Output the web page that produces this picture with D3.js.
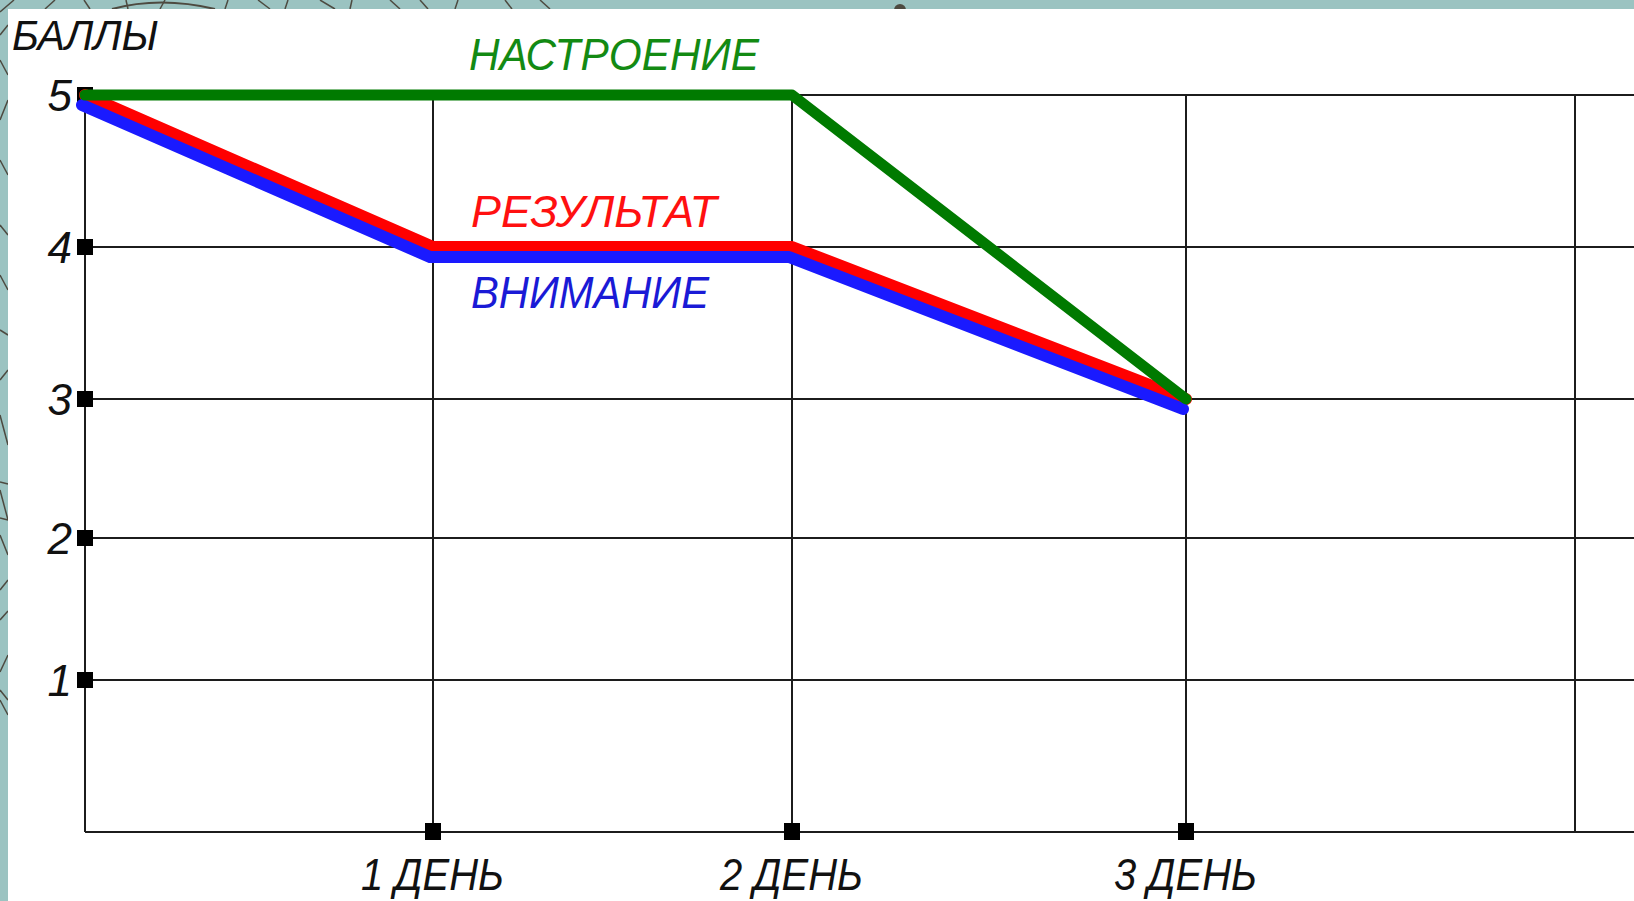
<!DOCTYPE html>
<html>
<head>
<meta charset="utf-8">
<script src="https://cdn.jsdelivr.net/npm/d3@7"></script>
<style>
  html, body { margin: 0; padding: 0; background: #9bc3c1; }
  svg { display: block; }
  text { font-family: "Liberation Sans", Arial, sans-serif; font-style: italic; }
</style>
</head>
<body>
<div id="chart"></div>
<script>
/* ===== Data ===== */
const days = [1, 2, 3];
const dayLabels = ['1 ДЕНЬ', '2 ДЕНЬ', '3 ДЕНЬ'];
const gridDays = [1, 2, 3, 4];
const scoreTicks = [1, 2, 3, 4, 5];

const moodValues = [5, 5, 5, 3];       // НАСТРОЕНИЕ
const resultValues = [5, 4, 4, 3];     // РЕЗУЛЬТАТ
const attentionValues = [5, 4, 4, 3];  // ВНИМАНИЕ

const W = 1634, H = 901;

const svg = d3.select('#chart').append('svg')
  .attr('width', W)
  .attr('height', H);

/* ---- Background strip decoration ---- */
svg.append('rect').attr('width', W).attr('height', H).attr('fill', '#9bc3c1');
const deco = [
  [0, 12, 14, 0], [45, 9, 55, 0], [90, 9, 84, 0], [128, 9, 126, 0], [160, 9, 165, 0],
  [225, 9, 228, 0], [258, 0, 270, 9], [285, 9, 288, 0], [320, 0, 335, 9], [350, 9, 352, 0],
  [390, 0, 400, 9], [420, 0, 428, 9], [455, 9, 458, 0], [505, 0, 512, 9], [540, 0, 550, 9],
  [0, 35, 8, 25], [0, 60, 8, 75], [0, 120, 8, 100], [0, 160, 8, 175], [0, 225, 8, 235],
  [0, 275, 8, 290], [0, 330, 8, 335], [0, 380, 8, 370], [0, 415, 8, 445],
  [0, 482, 8, 484], [0, 490, 8, 520], [0, 518, 8, 520], [0, 535, 8, 555], [0, 590, 8, 580],
  [0, 620, 8, 611], [0, 672, 8, 655], [0, 690, 8, 700], [0, 700, 8, 715]
];
svg.append('g').selectAll('line')
  .data(deco)
  .join('line')
  .attr('x1', d => d[0]).attr('y1', d => d[1])
  .attr('x2', d => d[2]).attr('y2', d => d[3])
  .attr('stroke', '#4d4a40')
  .attr('stroke-width', 1.5);
svg.append('path')
  .attr('d', 'M112,9 Q160,-4 215,9')
  .attr('fill', 'none').attr('stroke', '#4d4a40').attr('stroke-width', 2);
svg.append('circle').attr('cx', 900).attr('cy', 10).attr('r', 6).attr('fill', '#4d4a40');

/* ---- White panel ---- */
svg.append('rect')
  .attr('x', 8).attr('y', 9)
  .attr('width', W - 8).attr('height', H - 9)
  .attr('fill', '#ffffff');

/* ---- Scales (hand-drawn grid is slightly uneven) ---- */
const x = d3.scaleLinear()
  .domain([0, 1, 2, 3, 4])
  .range([85, 433, 792, 1186, 1575]);

const y = d3.scaleLinear()
  .domain([0, 1, 2, 3, 4, 5])
  .range([832, 680, 538, 399, 247, 95]);

const g = svg.append('g');

// Horizontal grid lines
g.selectAll('.h-grid')
  .data([0].concat(scoreTicks))
  .join('line')
  .attr('x1', x(0)).attr('x2', W)
  .attr('y1', d => y(d)).attr('y2', d => y(d))
  .attr('stroke', '#1c1c1c')
  .attr('stroke-width', 2);

// Vertical grid lines
g.selectAll('.v-grid')
  .data([0].concat(gridDays))
  .join('line')
  .attr('x1', d => x(d)).attr('x2', d => x(d))
  .attr('y1', y(5)).attr('y2', y(0))
  .attr('stroke', '#1c1c1c')
  .attr('stroke-width', 2);

// Tick squares
g.selectAll('.y-tick')
  .data(scoreTicks)
  .join('rect')
  .attr('x', x(0) - 8).attr('y', d => y(d) - 8)
  .attr('width', 16).attr('height', 16)
  .attr('fill', '#000');

g.selectAll('.x-tick')
  .data(days)
  .join('rect')
  .attr('x', d => x(d) - 8).attr('y', y(0) - 9)
  .attr('width', 16).attr('height', 17)
  .attr('fill', '#000');

// Y labels
g.selectAll('.y-label')
  .data(scoreTicks)
  .join('text')
  .attr('x', 72)
  .attr('y', d => y(d) + 16)
  .attr('text-anchor', 'end')
  .attr('font-size', '44px')
  .attr('fill', '#111')
  .text(d => d);

// X labels
g.selectAll('.x-label')
  .data(days)
  .join('text')
  .attr('x', d => x(d) - 72)
  .attr('y', 890)
  .attr('font-size', '44px')
  .attr('fill', '#111')
  .attr('textLength', 143)
  .attr('lengthAdjust', 'spacingAndGlyphs')
  .text((d, i) => dayLabels[i]);

// Axis title
g.append('text')
  .attr('x', 12).attr('y', 50)
  .attr('font-size', '42px')
  .attr('fill', '#111')
  .attr('textLength', 146)
  .attr('lengthAdjust', 'spacingAndGlyphs')
  .text('БАЛЛЫ');

/* ---- Series lines ---- */
const line = d3.line()
  .x((d, i) => x(i))
  .y(d => y(d));

g.append('path')
  .datum(resultValues)
  .attr('fill', 'none')
  .attr('stroke', '#ff0000')
  .attr('stroke-width', 12)
  .attr('stroke-linejoin', 'round')
  .attr('stroke-linecap', 'round')
  .attr('d', line);

g.append('path')
  .datum(attentionValues)
  .attr('transform', 'translate(-3,10)')
  .attr('fill', 'none')
  .attr('stroke', '#1a1aff')
  .attr('stroke-width', 12)
  .attr('stroke-linejoin', 'round')
  .attr('stroke-linecap', 'round')
  .attr('d', line);

g.append('path')
  .datum(moodValues)
  .attr('fill', 'none')
  .attr('stroke', '#007a00')
  .attr('stroke-width', 11)
  .attr('stroke-linejoin', 'round')
  .attr('stroke-linecap', 'round')
  .attr('d', line);

/* ---- Series labels ---- */
const seriesLabels = [
  { text: 'НАСТРОЕНИЕ', color: '#138a13', x: 469, y: 70, len: 290 },
  { text: 'РЕЗУЛЬТАТ', color: '#ff1010', x: 471, y: 227, len: 246 },
  { text: 'ВНИМАНИЕ', color: '#1a1ad6', x: 471, y: 308, len: 238 }
];
g.selectAll('.series-label')
  .data(seriesLabels)
  .join('text')
  .attr('x', d => d.x).attr('y', d => d.y)
  .attr('font-size', '45px')
  .attr('fill', d => d.color)
  .attr('textLength', d => d.len)
  .attr('lengthAdjust', 'spacingAndGlyphs')
  .text(d => d.text);
</script>
</body>
</html>
